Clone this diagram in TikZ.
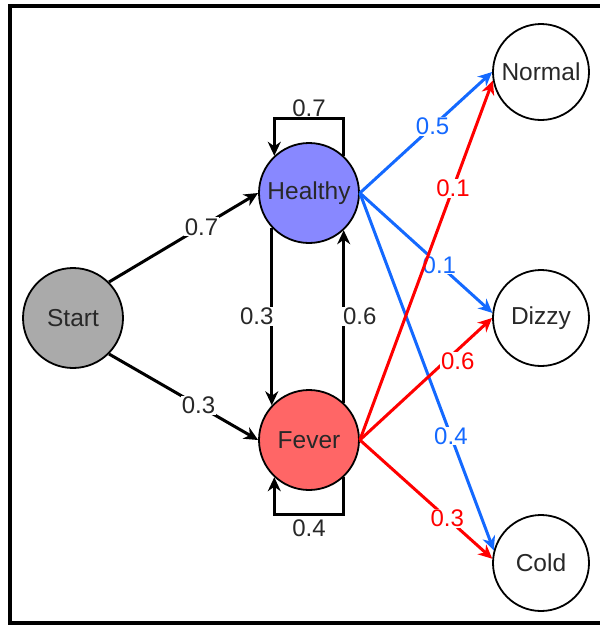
\documentclass[tikz,border=0pt]{standalone}
\usepackage{fontspec}
\setmainfont{Liberation Sans}
\usetikzlibrary{arrows.meta}

\definecolor{startgray}{RGB}{170,170,170}
\definecolor{healthyblue}{RGB}{136,136,255}
\definecolor{feverred}{RGB}{255,102,102}
\definecolor{hblue}{RGB}{20,105,255}
\definecolor{fred}{RGB}{255,0,0}
\definecolor{txtgray}{RGB}{40,40,40}

\begin{document}
\begin{tikzpicture}[x=1pt,y=-1pt,
    state/.style={circle, draw=black, line width=1.8pt, minimum size=100pt,
        inner sep=0pt, text=txtgray, font=\fontsize{24.5}{28}\selectfont},
    obs/.style={state, minimum size=96pt, fill=white},
    edge/.style={line width=3pt, -{Stealth[length=14pt,width=13pt,inset=4.5pt]}},
    lbl/.style={fill=white, inner sep=1pt, text=txtgray, font=\fontsize{24}{28}\selectfont},
]
\useasboundingbox (0,0) rectangle (600,625);
\draw[line width=3.2pt] (10,6) rectangle (640,623);

% hidden states and observations
\node[state, fill=startgray] (start) at (73,318) {Start};
\node[state, fill=healthyblue] (healthy) at (309,193) {Healthy};
\node[state, fill=feverred] (fever) at (309,440) {Fever};
\node[obs] (normal) at (541,72) {Normal};
\node[obs] (dizzy) at (541,318) {Dizzy};
\node[obs] (cold) at (541,563) {Cold};

% start probabilities
\draw[edge] (start.45) -- node[lbl, pos=0.62] (pH) {0.7} (healthy.west);
\draw[edge] (start.-45) -- node[lbl, pos=0.6] (pF) {0.3} (fever.west);

% transitions
\draw[edge] (healthy.-137) -- node[lbl, xshift=-15pt] (hf) {0.3} (fever.137);
\draw[edge] (fever.47) -- node[lbl, xshift=16pt] (fh) {0.6} (healthy.-47);
\draw[edge] (healthy.47) -- ++(0,-37) -| node[lbl, pos=0.25, yshift=11pt] (hh) {0.7} (healthy.133);
\draw[edge] (fever.-47) -- ++(0,37) -| node[lbl, pos=0.25, yshift=-14pt] (ff) {0.4} (fever.-133);

% emissions from Healthy
\draw[edge, hblue] (healthy.east) -- node[lbl, text=hblue, pos=0.55] (hn) {0.5} (normal.west);
\draw[edge, hblue] (healthy.east) -- node[lbl, text=hblue, pos=0.6] (hd) {0.1} (dizzy.174);
\draw[edge, hblue] (healthy.east) -- node[lbl, text=hblue, pos=0.68] (hc) {0.4} (cold.165);

% emissions from Fever
\draw[edge, fred] (fever.east) -- node[lbl, text=fred, pos=0.7] (fn) {0.1} (normal.190);
\draw[edge, fred] (fever.east) -- node[lbl, text=fred, pos=0.74, yshift=-12pt] (fd) {0.6} (dizzy.west);
\draw[edge, fred] (fever.east) -- node[lbl, text=fred, pos=0.66] (fc) {0.3} (cold.175);
\end{tikzpicture}
\end{document}
